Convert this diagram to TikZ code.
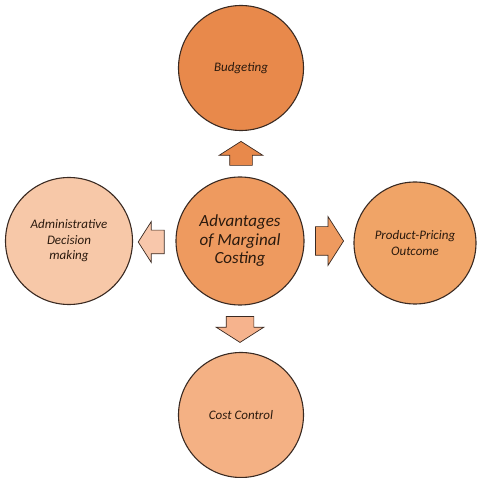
\documentclass[tikz,border=0pt]{standalone}
\usepackage{fontspec}
\setmainfont{Carlito}
\usetikzlibrary{shapes.arrows}

\definecolor{budgetfill}{HTML}{E8894B}
\definecolor{centrefill}{HTML}{EE9A5F}
\definecolor{pricefill}{HTML}{F0A467}
\definecolor{costfill}{HTML}{F4B184}
\definecolor{adminfill}{HTML}{F7C8A8}
\definecolor{rimcol}{HTML}{3A2A22}
\definecolor{labelcol}{HTML}{2B1A0E}

\begin{document}
\begin{tikzpicture}[x=1pt,y=-1pt,
  bubble/.style={circle, draw=rimcol, line width=1.1pt, minimum size=125pt, inner sep=0pt,
    align=center, text=labelcol, font=\itshape\fontsize{13}{15.5}\selectfont},
  blockarrow/.style={single arrow, draw=rimcol, line width=0.7pt, inner xsep=0pt,
    single arrow tip angle=115, single arrow head indent=0pt}]
  \useasboundingbox (0,0) rectangle (480,478);

  % circles
  \node[bubble, fill=centrefill, minimum size=128pt, font=\itshape\fontsize{17}{18.5}\selectfont]
    (core) at (240,241) {Advantages\\of Marginal\\Costing};
  \node[bubble, fill=budgetfill] (budget) at (241,68) {Budgeting};
  \node[bubble, fill=adminfill, minimum size=127pt] (admin) at (69,241) {Administrative\\Decision\\making};
  \node[bubble, fill=pricefill, minimum size=122pt] (price) at (415,243) {Product-Pricing\\Outcome};
  \node[bubble, fill=costfill] (cost) at (241,415) {Cost Control};

  % block arrows
  \node[blockarrow, fill=budgetfill, rotate=90, minimum height=24pt, inner ysep=11pt,
    single arrow head extend=10.5pt] (toBudget) at (241,157) {};
  \node[blockarrow, fill=adminfill!85!pink, rotate=180, minimum height=26pt, inner ysep=11.5pt,
    single arrow head extend=8.5pt] (toAdmin) at (155,242) {};
  \node[blockarrow, fill=centrefill, minimum height=28pt, inner ysep=14pt,
    single arrow head extend=10pt] (toPrice) at (325,241) {};
  \node[blockarrow, fill=costfill!85!pink, rotate=270, minimum height=26pt, inner ysep=13.5pt,
    single arrow head extend=10pt] (toCost) at (240,325) {};
\end{tikzpicture}
\end{document}
